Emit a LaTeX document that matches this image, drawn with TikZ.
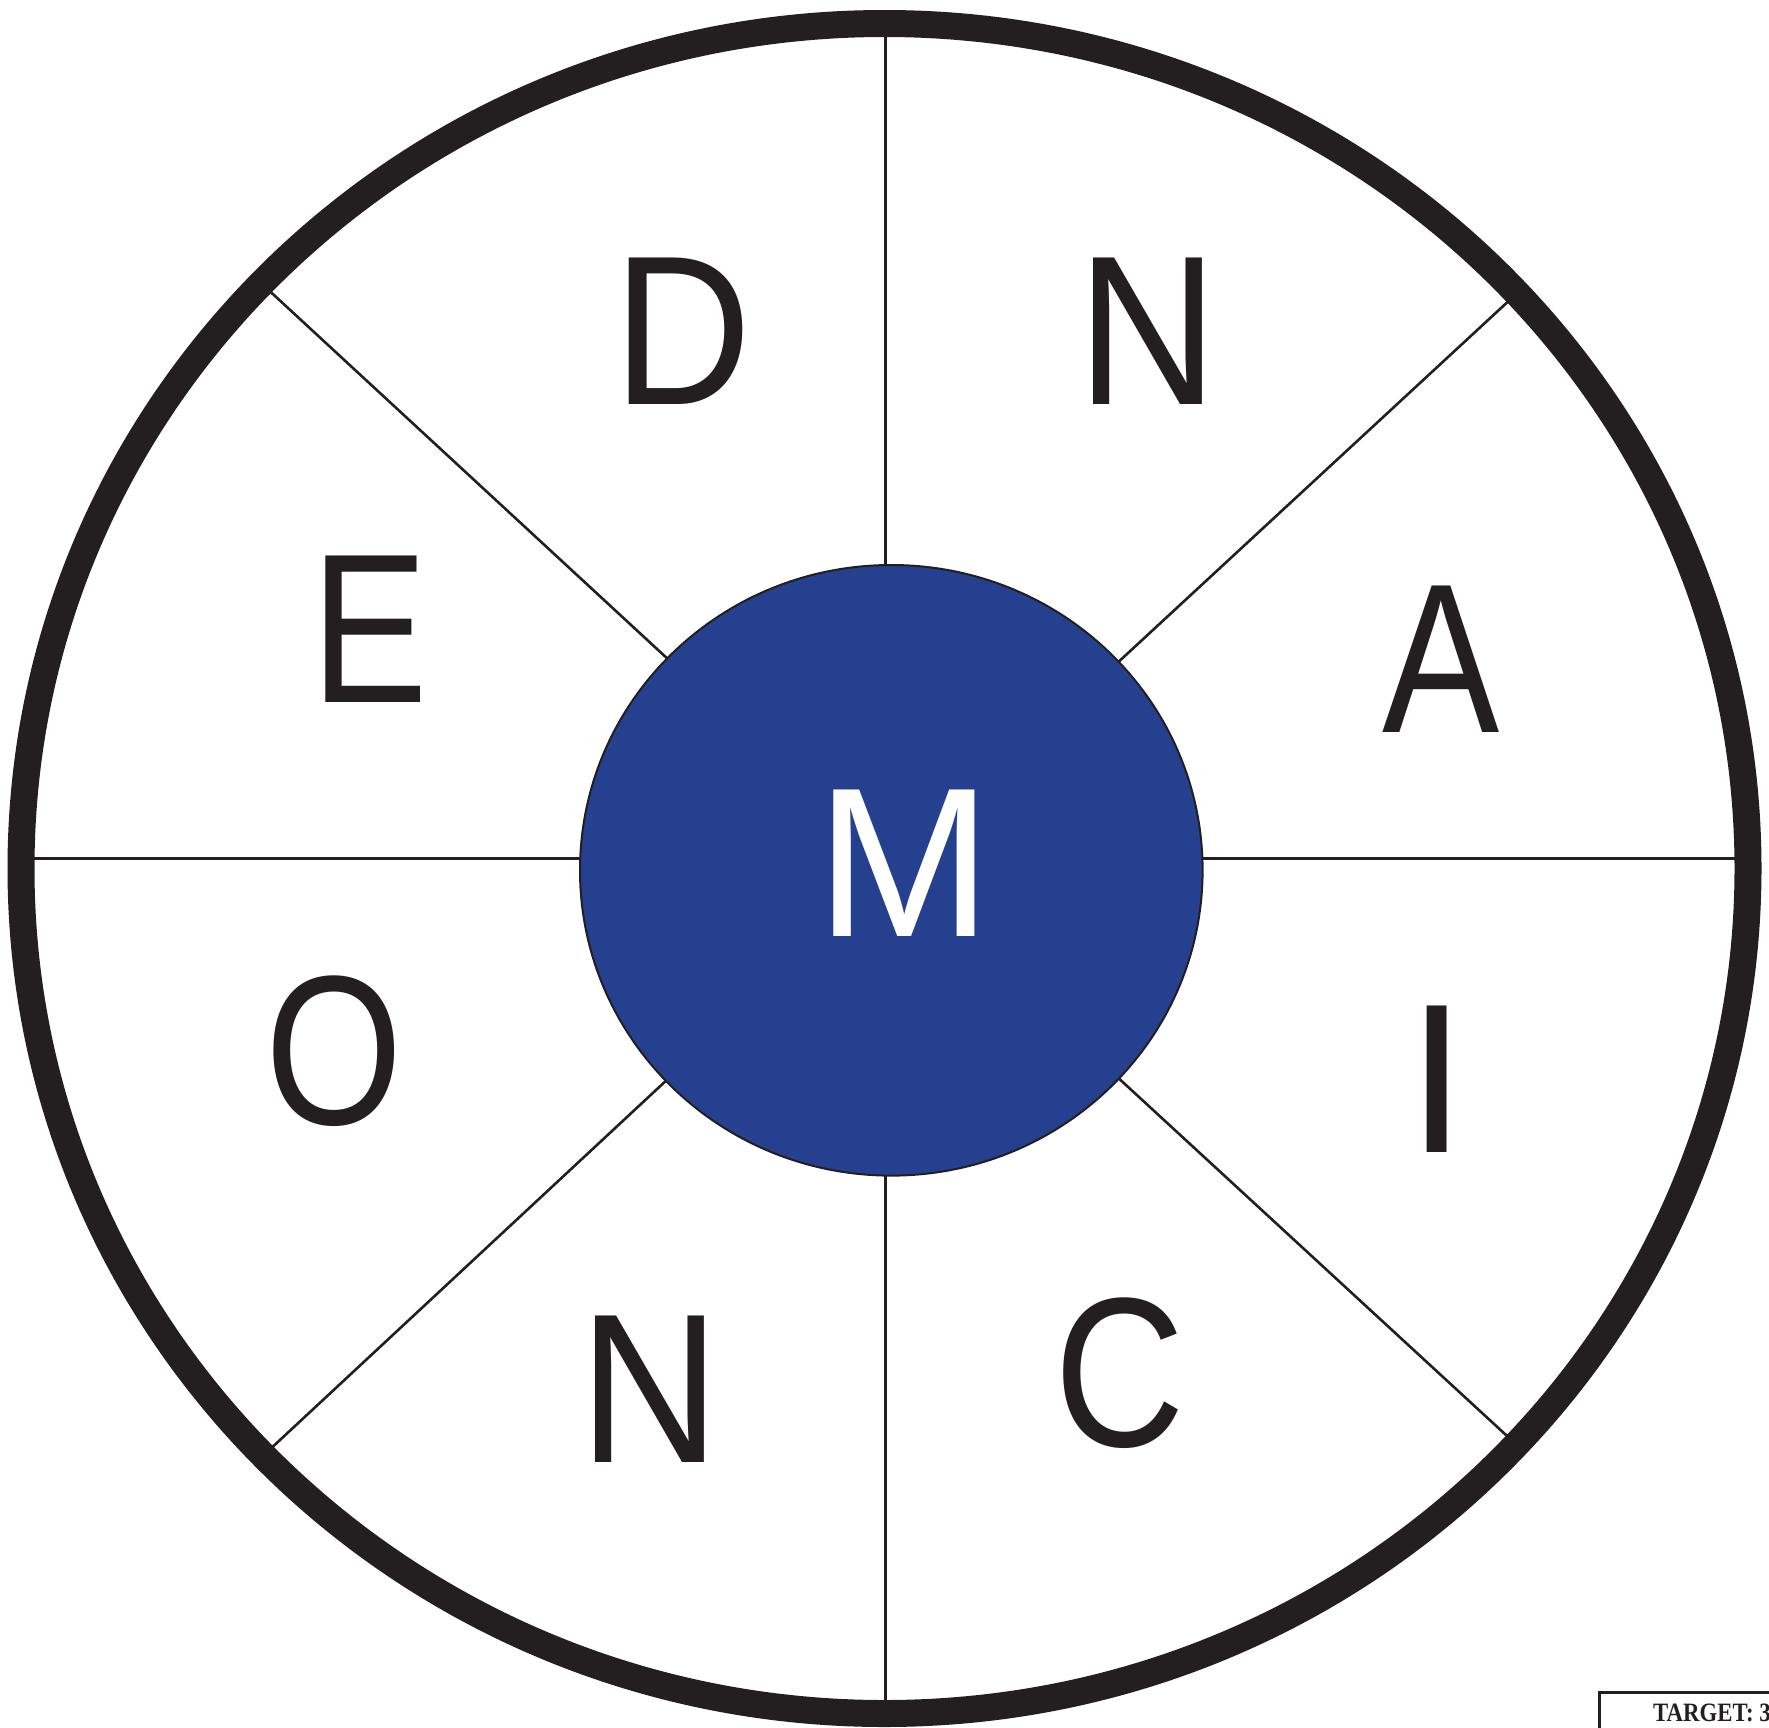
\documentclass[tikz,border=0pt]{standalone}
\usepackage{fontspec}
\setmainfont{Liberation Sans}
\newfontfamily\tgtfont{Liberation Serif}
\usetikzlibrary{shapes.geometric}
\definecolor{ringdark}{RGB}{35,31,32}
\definecolor{hubblue}{RGB}{37,64,142}
\newcommand{\nlet}[2]{\scalebox{#1}[1]{#2}}
\tikzset{
  spoke/.style={draw=ringdark, line width=2.6pt},
  letter/.style={inner sep=0pt, anchor=center, text=ringdark, font=\fontsize{213}{213}\selectfont},
}
\begin{document}
\begin{tikzpicture}[x=1pt,y=-1pt]
\useasboundingbox (0,0) rectangle (1769,1727);
\clip (0,0) rectangle (1769,1727);
\fill[white] (0,0) rectangle (1769,1727);
% spoke end coordinates
\coordinate (ulo) at (269.6,291);
\coordinate (uli) at (670,661);
\coordinate (uro) at (1508.4,301.2);
\coordinate (uri) at (1114,666);
\coordinate (llo) at (271.9,1447.5);
\coordinate (lli) at (670,1077);
\coordinate (lro) at (1507.3,1436.2);
\coordinate (lri) at (1114,1074);
\coordinate (lo) at (30,858.5);
\coordinate (li) at (584,858.5);
\coordinate (ro) at (1740,858.5);
\coordinate (ri) at (1199,858.5);
\coordinate (to) at (885.6,30);
\coordinate (ti) at (885.6,570);
\coordinate (bo) at (885.6,1705);
\coordinate (bi) at (885.6,1171);
\draw[spoke] (ulo) -- (uli);
\draw[spoke] (uro) -- (uri);
\draw[spoke] (llo) -- (lli);
\draw[spoke] (lro) -- (lri);
\draw[spoke] (lo) -- (li);
\draw[spoke] (ro) -- (ri);
\draw[spoke] (to) -- (ti);
\draw[spoke] (bo) -- (bi);
% outer ring
\draw[ringdark, line width=27pt] (884.5,868.5) ellipse [x radius=863.5pt, y radius=845pt];
% hub
\node[ellipse, draw=ringdark, line width=2pt, fill=hubblue, minimum width=622.6pt, minimum height=610.6pt, inner sep=0pt] (hub) at (891.3,870.3) {};
\node[letter, text=white] (m) at (904.2,863.6) {\nlet{0.99}{M}};
% letters
\node[letter] (d) at (682.6,331.1) {\nlet{0.90}{D}};
\node[letter] (n1) at (1147.4,331.1) {\nlet{0.915}{N}};
\node[letter] (e) at (370,629) {\nlet{0.82}{E}};
\node[letter] (a) at (1441.3,659.4) {\nlet{0.825}{A}};
\node[letter] (o) at (334,1051) {\nlet{0.83}{O}};
\node[letter] (i) at (1436.7,1079.7) {I};
\node[letter] (n2) at (649.9,1388.8) {\nlet{0.915}{N}};
\node[letter] (c) at (1120.3,1373.6) {\nlet{0.85}{C}};
% target box
\draw[ringdark, line width=3pt] (1599,1692.5) rectangle (1820,1780);
\node[inner sep=0pt, anchor=base west, text=ringdark, font=\tgtfont\bfseries\fontsize{26.5}{26.5}\selectfont] (tgt) at (1653,1721) {\scalebox{0.86}[1]{TARGET: 3}};
\end{tikzpicture}
\end{document}
